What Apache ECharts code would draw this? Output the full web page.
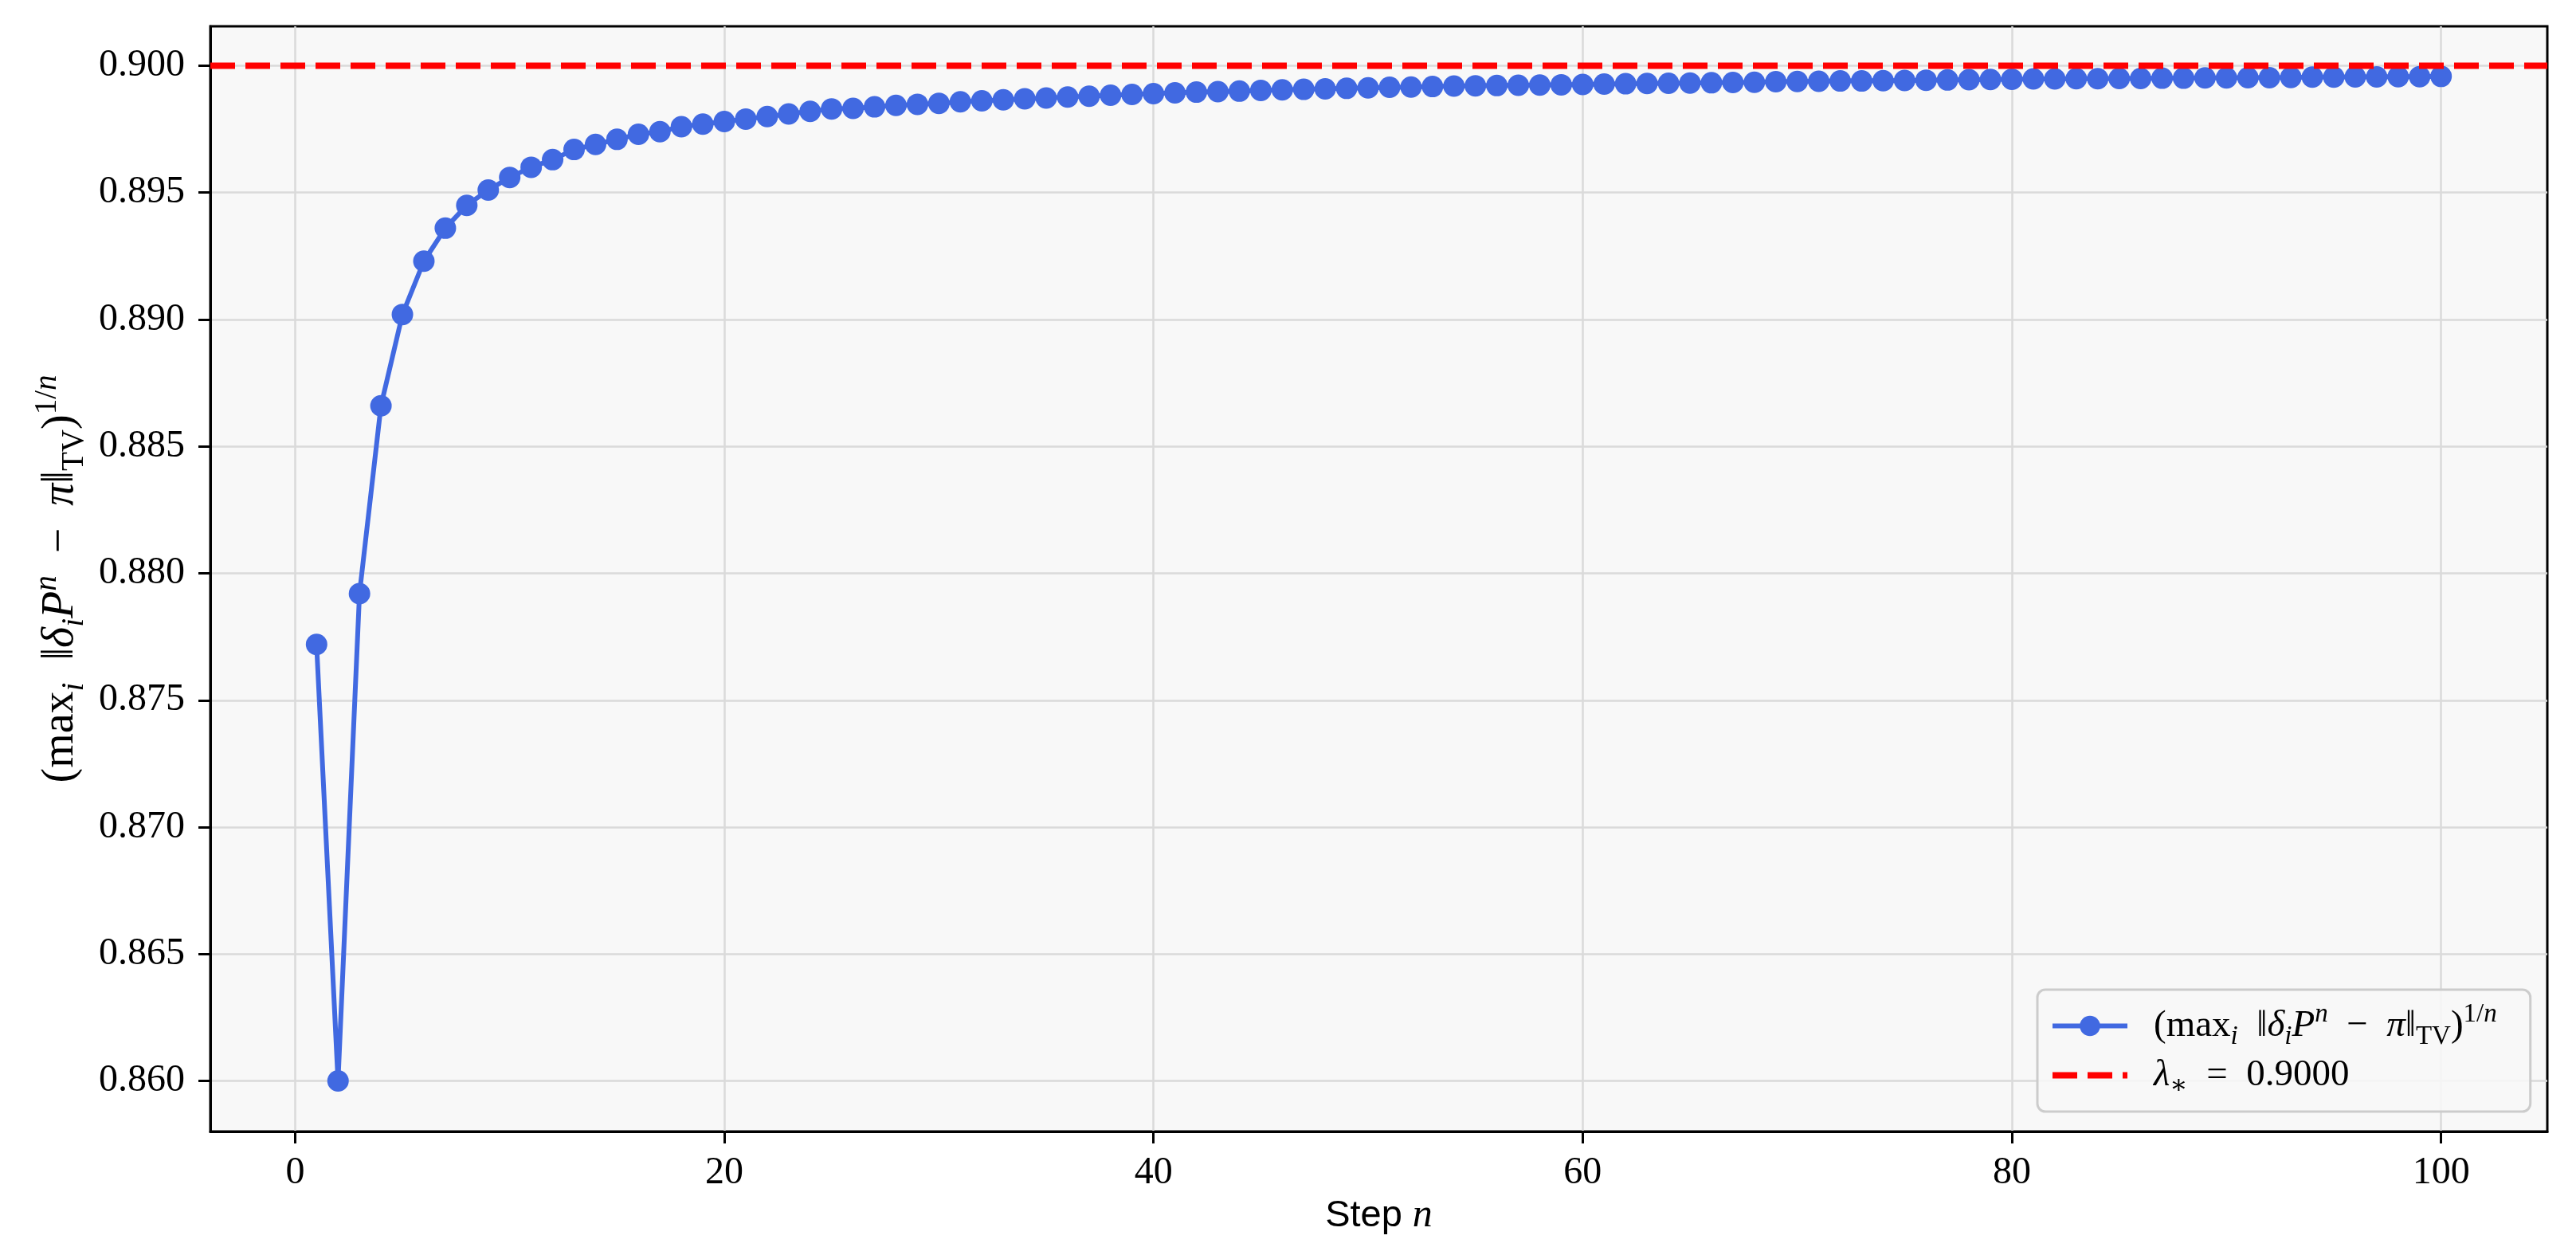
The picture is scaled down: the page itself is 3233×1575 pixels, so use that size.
<!DOCTYPE html>
<html>
<head>
<meta charset="utf-8">
<script src="https://cdn.jsdelivr.net/npm/echarts@6/dist/echarts.min.js"></script>
<style>
html,body{margin:0;padding:0;background:#ffffff;}
#chart{width:3233px;height:1575px;}
</style>
</head>
<body>
<div id="chart"></div>
<script>
// ---- data ----
const steps = [1,2,3,4,5,6,7,8,9,10,11,12,13,14,15,16,17,18,19,20,
  21,22,23,24,25,26,27,28,29,30,31,32,33,34,35,36,37,38,39,40,
  41,42,43,44,45,46,47,48,49,50,51,52,53,54,55,56,57,58,59,60,
  61,62,63,64,65,66,67,68,69,70,71,72,73,74,75,76,77,78,79,80,
  81,82,83,84,85,86,87,88,89,90,91,92,93,94,95,96,97,98,99,100];
const ratioValues = [
  0.8772,0.8600,0.8792,0.8866,0.8902,0.8923,0.8936,0.8945,0.8951,0.8956,
  0.8960,0.8963,0.8967,0.8969,0.8971,0.8973,0.8974,0.8976,0.8977,0.8978,
  0.8979,0.8980,0.8981,0.8982,0.8983,0.89832,0.89838,0.89844,0.89848,0.89852,
  0.89858,0.89862,0.89866,0.89870,0.89873,0.89877,0.89880,0.89884,0.89887,0.89890,
  0.89893,0.89896,0.89898,0.89900,0.89903,0.89905,0.89907,0.89909,0.89911,0.89913,
  0.89915,0.89916,0.89918,0.89920,0.89921,0.89922,0.89923,0.89924,0.89925,0.89926,
  0.89928,0.89929,0.89930,0.89931,0.89932,0.89933,0.89934,0.89935,0.89937,0.89938,
  0.89939,0.89940,0.89940,0.89941,0.89942,0.89943,0.89944,0.89945,0.89946,0.89947,
  0.89948,0.89948,0.89949,0.89949,0.89950,0.89950,0.89951,0.89951,0.89952,0.89952,
  0.89953,0.89953,0.89954,0.89955,0.89955,0.89956,0.89956,0.89957,0.89957,0.89958];
const lambdaStar = 0.9;
const xTicks = [0, 20, 40, 60, 80, 100];
const yTicks = [0.860, 0.865, 0.870, 0.875, 0.880, 0.885, 0.890, 0.895, 0.900];
const xRange = [-3.95, 104.95];
const yRange = [0.858007, 0.901554];

// ---- styles ----
const SERIF = "'Liberation Serif','DejaVu Serif',serif";
const SANS = "'Liberation Sans','DejaVu Sans',sans-serif";
function mathRich(base, padLeft) {
  const sub = Math.round(base * 0.7);
  const lh = Math.round(base * 1.3);
  return {
    p0: {fontFamily: SERIF, fontSize: base, lineHeight: lh, color: '#000', padding: [0, 0, 0, padLeft]},
    r: {fontFamily: SERIF, fontSize: base, lineHeight: lh, color: '#000'},
    it: {fontFamily: SERIF, fontSize: base, lineHeight: lh, fontStyle: 'italic', color: '#000'},
    sb: {fontFamily: SERIF, fontSize: sub, lineHeight: Math.round(sub * 1.0), verticalAlign: 'bottom', color: '#000'},
    sbi: {fontFamily: SERIF, fontSize: sub, lineHeight: Math.round(sub * 1.0), verticalAlign: 'bottom', fontStyle: 'italic', color: '#000'},
    sp: {fontFamily: SERIF, fontSize: sub, lineHeight: Math.round(sub * 1.1), verticalAlign: 'top', color: '#000'},
    spi: {fontFamily: SERIF, fontSize: sub, lineHeight: Math.round(sub * 1.1), verticalAlign: 'top', fontStyle: 'italic', color: '#000'}
  };
}
const ratioLabel = (first) => '{' + first + '|(max}{sbi|i}{r|  ‖}{it|δ}{sbi|i}{it|P}{spi|n}{r|  −  }{it|π}{r|‖}{sb|TV}{r|)}{sp|1/}{spi|n}';
const lambdaLabel = '{p0|}{it|λ}{sb|∗}{r|  =  0.9000}';

const chart = echarts.init(document.getElementById('chart'), null, {renderer: 'canvas'});
chart.setOption({
  animation: false,
  backgroundColor: '#ffffff',
  grid: {
    left: 264, right: 36, top: 33, bottom: 155,
    show: true, backgroundColor: '#f8f8f8', borderColor: '#000000', borderWidth: 3
  },
  xAxis: {
    type: 'value', min: xRange[0], max: xRange[1],
    name: '{s|Step }{it|n}', nameLocation: 'middle', nameGap: 80,
    nameTextStyle: {
      rich: {
        s: {fontFamily: SANS, fontSize: 47, color: '#000'},
        it: {fontFamily: SERIF, fontSize: 50, fontStyle: 'italic', color: '#000'}
      }
    },
    axisLine: {show: true, onZero: false, lineStyle: {color: '#000', width: 3}},
    axisTick: {show: true, length: 15, lineStyle: {color: '#000', width: 3}, customValues: xTicks},
    axisLabel: {
      customValues: xTicks, margin: 28, fontFamily: SERIF, fontSize: 48, color: '#000',
      formatter: v => String(Math.round(v))
    },
    splitLine: {show: true, lineStyle: {color: '#dadada', width: 2.5}}
  },
  yAxis: {
    type: 'value', min: yRange[0], max: yRange[1],
    name: ratioLabel('r'), nameLocation: 'middle', nameGap: 150, nameRotate: 90,
    nameTextStyle: {rich: mathRich(56, 0)},
    axisLine: {show: true, onZero: false, lineStyle: {color: '#000', width: 3}},
    axisTick: {show: true, length: 15, lineStyle: {color: '#000', width: 3}, customValues: yTicks},
    axisLabel: {
      customValues: yTicks, margin: 32, fontFamily: SERIF, fontSize: 48, color: '#000',
      formatter: v => v.toFixed(3)
    },
    splitLine: {show: true, lineStyle: {color: '#dadada', width: 2.5}}
  },
  legend: {
    show: true, orient: 'vertical', left: 2557, top: 1242,
    padding: [15, 42, 15, 15], itemGap: 8,
    itemWidth: 94, itemHeight: 32,
    backgroundColor: 'rgba(248,248,248,0.85)', borderColor: '#cccccc', borderWidth: 3, borderRadius: 10,
    data: [
      {name: 'ratio', lineStyle: {width: 6, color: '#4169E1'}},
      {name: 'lambda', lineStyle: {width: 8, color: '#ff0000', type: [31, 13]}, itemStyle: {opacity: 0}}
    ],
    formatter: name => name === 'ratio' ? ratioLabel('p0') : lambdaLabel,
    textStyle: {rich: mathRich(47, 28)}
  },
  series: [
    {
      name: 'ratio', type: 'line',
      data: steps.map((s, i) => [s, ratioValues[i]]),
      symbol: 'circle', symbolSize: 27, showSymbol: true,
      lineStyle: {color: '#4169E1', width: 6},
      itemStyle: {color: '#4169E1'},
      z: 3
    },
    {
      name: 'lambda', type: 'line',
      data: [[xRange[0], lambdaStar], [xRange[1], lambdaStar]],
      symbol: 'none', showSymbol: false,
      lineStyle: {color: '#ff0000', width: 8, type: [31, 13]},
      itemStyle: {color: '#ff0000'},
      z: 4
    }
  ]
});
</script>
</body>
</html>
